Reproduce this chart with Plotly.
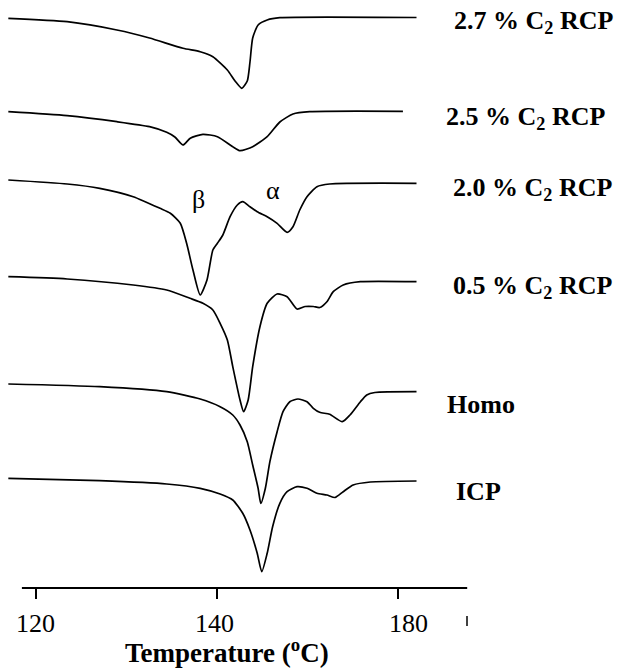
import plotly.graph_objects as go

# ---- data (temperature in deg C as read on the drawn scale, heat flow in stacked a.u.) ----
temp_27 = [116.9, 123.4, 128.9, 132.5, 136.2, 138.1, 139.5, 141.1, 141.95, 142.7, 143.3, 143.6, 143.9, 144.5, 145.5, 146.9, 162.0]
hf_27 = [581.7, 578.3, 570.0, 562.0, 551.7, 548.3, 543.3, 530.0, 519.0, 511.7, 519.0, 538.0, 562.0, 575.0, 580.0, 582.3, 582.5]

temp_25 = [116.9, 123.4, 128.9, 132.5, 134.4, 135.3, 136.2, 137.0, 138.4, 140.0, 141.7, 142.5, 143.9, 145.5, 146.9, 148.35, 150.2, 160.5]
hf_25 = [488.3, 484.3, 478.3, 473.3, 467.7, 463.0, 455.0, 461.7, 465.7, 463.3, 453.3, 449.3, 453.3, 463.3, 478.0, 486.0, 488.3, 488.7]

temp_20 = [116.9, 123.4, 127.0, 130.7, 133.65, 134.8, 135.9, 136.6, 137.3, 138.1, 138.85, 139.5, 140.0, 140.6, 141.4, 142.2, 142.8, 143.6, 144.4, 145.5, 146.6, 147.7, 148.35, 149.1, 149.9, 151.0, 152.4, 162.0]
hf_20 = [420, 416, 411.7, 403.3, 391.7, 386.7, 376.7, 356.7, 330, 305, 320, 350, 356.7, 365, 383.3, 395, 398.3, 393.3, 388.3, 383.3, 376.7, 367.7, 373.3, 390, 403.3, 413.3, 416, 416.7]

temp_05 = [116.9, 123.4, 130.7, 134.4, 136.97, 138.4, 139.5, 140.3, 141.1, 141.7, 142.5, 142.9, 143.4, 143.9, 144.7, 145.5, 146.6, 147.7, 148.8, 149.7, 150.6, 151.3, 152.1, 152.8, 153.9, 155.8, 162.0]
hf_05 = [323.3, 321, 315, 310, 301.7, 296.7, 290, 276.7, 260, 233.3, 200, 188.3, 200, 233.3, 273.3, 296.7, 306, 303.3, 291, 293.5, 293.5, 292.5, 298.3, 308.3, 315, 318.3, 318.3]

temp_homo = [116.9, 127.0, 134.4, 138.1, 140.3, 141.7, 142.5, 143.3, 143.9, 144.5, 144.8, 145.3, 145.8, 146.6, 147.25, 148.0, 148.9, 149.9, 150.6, 151.3, 152.4, 153.8, 154.65, 155.8, 156.5, 157.4, 162.0]
hf_homo = [216, 213.3, 208.3, 201, 193.3, 185, 175, 158.3, 135, 111.7, 96.5, 111.7, 138.3, 168.3, 188.3, 198.3, 201, 198.3, 191.7, 187.7, 185.7, 178.3, 185, 198.3, 205, 207.5, 208.3]

temp_icp = [116.9, 127.0, 134.4, 138.1, 140.3, 141.7, 142.8, 143.6, 144.4, 144.9, 145.5, 146.1, 146.9, 147.7, 148.8, 149.9, 151.0, 152.1, 153.0, 153.9, 155.0, 156.9, 162.0]
hf_icp = [121.7, 119.3, 116, 111.7, 106, 100, 86.7, 70, 46.7, 28.3, 46.7, 73.3, 96.7, 108.3, 113.3, 111.7, 106.7, 105, 102.5, 108.3, 115, 118, 119]

series_labels = ["2.7 % C<sub>2</sub> RCP", "2.5 % C<sub>2</sub> RCP", "2.0 % C<sub>2</sub> RCP",
                 "0.5 % C<sub>2</sub> RCP", "Homo", "ICP"]
tick_vals = [120, 140, 160]
tick_text = ["120", "140", "180"]
x_title = "Temperature (<sup>o</sup>C)"

temps = [temp_27, temp_25, temp_20, temp_05, temp_homo, temp_icp]
hfs = [hf_27, hf_25, hf_20, hf_05, hf_homo, hf_icp]

# ---- layout geometry ----
W, H = 618, 668
ML, MR, MT, MB = 0, 148, 5, 80
PW = W - ML - MR
PH = H - MT - MB


def px_x(px):
    return (px - ML) / PW


def px_y(py):
    return (H - MB - py) / PH


fig = go.Figure()
for t, h in zip(temps, hfs):
    fig.add_trace(go.Scatter(x=t, y=h, mode="lines",
                             line=dict(color="black", width=1.7, shape="spline", smoothing=0.6),
                             showlegend=False, hoverinfo="skip"))

serif = "Liberation Serif"

label_pos = [(452, 22), (444, 118), (451, 189), (451, 287), (445, 404), (454, 491)]
annotations = []
for txt, (lx, ly) in zip(series_labels, label_pos):
    annotations.append(dict(text="<b>" + txt + "</b>", xref="paper", yref="paper",
                            x=px_x(lx), y=px_y(ly), xanchor="left", yanchor="middle",
                            showarrow=False, font=dict(family=serif, size=26, color="black")))

# tick labels (drawn as text so the last one can sit where the reference puts it)
tick_shift = [-1, -3, 10]
for tv, tt, sh in zip(tick_vals, tick_text, tick_shift):
    annotations.append(dict(text=tt, xref="x", yref="paper", x=tv, y=px_y(623),
                            xanchor="center", yanchor="middle", xshift=sh, showarrow=False,
                            font=dict(family=serif, size=26, color="black")))

annotations.append(dict(text="β", xref="paper", yref="paper", x=px_x(198), y=px_y(200),
                        xanchor="center", yanchor="middle", showarrow=False,
                        font=dict(family=serif, size=26, color="black")))
annotations.append(dict(text="α", xref="paper", yref="paper", x=px_x(273), y=px_y(190),
                        xanchor="center", yanchor="middle", showarrow=False,
                        font=dict(family=serif, size=26, color="black")))
annotations.append(dict(text="<b>" + x_title + "</b>", xref="paper", yref="paper",
                        x=px_x(227), y=px_y(651), xanchor="center", yanchor="middle",
                        showarrow=False, font=dict(family=serif, size=27, color="black")))

shapes = [
    dict(type="line", xref="x", yref="paper", x0=118.4, x1=167.6, y0=0, y1=0,
         line=dict(color="black", width=2)),
    dict(type="line", xref="paper", yref="paper", x0=px_x(467), x1=px_x(467),
         y0=px_y(616), y1=px_y(626), line=dict(color="black", width=1.5)),
]

fig.update_layout(
    width=W, height=H,
    margin=dict(l=ML, r=MR, t=MT, b=MB),
    paper_bgcolor="white", plot_bgcolor="white",
    annotations=annotations, shapes=shapes,
    xaxis=dict(range=[115.98, 167.91], tickvals=tick_vals, ticktext=tick_text,
               ticks="outside", ticklen=10, tickwidth=2, tickcolor="black",
               showticklabels=False,
               showline=False, showgrid=False, zeroline=False),
    yaxis=dict(range=[12, 595], visible=False),
)

fig.write_html("out.html")
